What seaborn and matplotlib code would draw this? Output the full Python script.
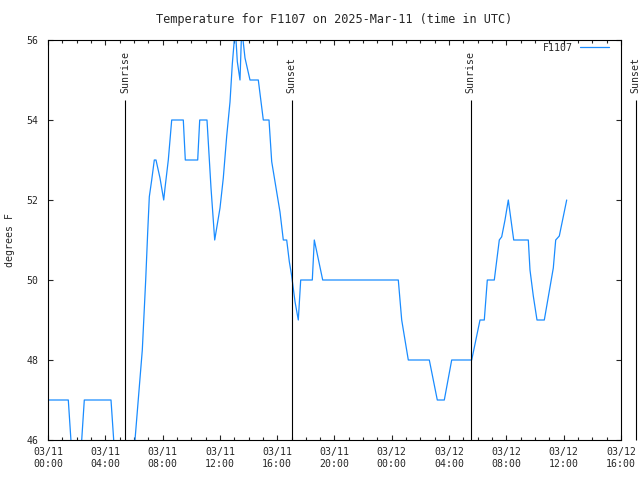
import pandas as pd
import matplotlib
matplotlib.use("Agg")
import matplotlib.pyplot as plt
import matplotlib.dates as mdates
import seaborn as sns

# Giờ kể từ 2025-03-11 00:00 UTC và nhiệt độ (độ F)
hours = [0.0, 1.417, 1.6, 1.8, 2.15, 2.353, 2.534, 4.398, 4.586, 4.78, 5.88, 6.073,
         6.583, 6.82, 6.96, 7.072, 7.239, 7.421, 7.539, 7.818, 8.077, 8.168, 8.398,
         8.517, 8.635, 9.445, 9.585, 10.45, 10.59, 11.099, 11.379, 11.637, 12.007,
         12.237, 12.475, 12.705, 12.866, 13.075, 13.215, 13.403, 13.522, 13.752,
         14.101, 14.681, 15.03, 15.428, 15.616, 15.965, 16.195, 16.426, 16.663,
         16.845, 17.012, 17.243, 17.473, 17.64, 18.45, 18.59, 19.176, 24.454,
         24.691, 24.921, 25.152, 26.618, 27.176, 27.665, 28.181, 29.578, 30.157,
         30.457, 30.667, 31.155, 31.504, 31.672, 31.902, 32.133, 32.51, 33.529,
         33.647, 33.878, 34.136, 34.646, 35.274, 35.442, 35.693, 36.209]
temps = [47, 47, 46, 45, 45, 46, 47, 47, 46, 45, 45, 46,
         48.25, 50, 51.2, 52.08, 52.5, 53, 53, 52.55, 52, 52.3, 53,
         53.5, 54, 54, 53, 53, 54, 54, 52.3, 51, 51.8,
         52.55, 53.6, 54.45, 55.4, 56.3, 55.46, 55, 56.3, 55.55,
         55, 55, 54, 54, 52.96, 52.2, 51.7, 51, 51,
         50.46, 50.1, 49.46, 49, 50, 50, 51, 50, 50,
         49, 48.5, 48, 48, 47, 47, 48, 48, 49,
         49, 50, 50, 51, 51.08, 51.5, 52, 51, 51,
         50.25, 49.6, 49, 49, 50.3, 51, 51.1, 52]

events = ["Sunrise", "Sunset", "Sunrise", "Sunset"]
event_hours = [5.37, 17.0, 29.5, 41.03]

start = pd.Timestamp("2025-03-11 00:00")
df = pd.DataFrame({"time": start + pd.to_timedelta(hours, unit="h"), "temp": temps})

sns.set_style("ticks")
plt.rcParams["font.family"] = ["DejaVu Sans Mono", "DejaVu Sans"]
plt.rcParams["font.size"] = 7.1

fig = plt.figure(figsize=(6.4, 4.8), dpi=100)
ax = fig.add_axes([48 / 640, 40 / 480, 573 / 640, 400 / 480])

sns.lineplot(data=df, x="time", y="temp", ax=ax, color="#1a8cff", linewidth=0.9,
             estimator=None, sort=False, label="F1107")

# Đường mặt trời mọc / lặn
for name, h in zip(events, event_hours):
    t = start + pd.Timedelta(hours=h)
    ax.vlines(t, 46, 54.5, color="black", linewidth=0.8, clip_on=False)
    ax.text(t, 54.68, name, rotation=90, ha="center", va="bottom", clip_on=False)

ax.set_xlim(start, start + pd.Timedelta(hours=40))
ax.set_ylim(46, 56)
ax.set_yticks([46, 48, 50, 52, 54, 56])
ax.xaxis.set_major_locator(mdates.HourLocator(byhour=range(0, 24, 4)))
ax.xaxis.set_minor_locator(mdates.HourLocator())
ax.xaxis.set_major_formatter(mdates.DateFormatter("%m/%d\n%H:%M"))

ax.tick_params(which="both", direction="in", top=True, right=True, width=0.8)
ax.tick_params(which="major", length=3.6)
ax.tick_params(which="minor", length=2.2)
ax.tick_params(axis="x", pad=5)
ax.tick_params(axis="y", pad=7)
for s in ax.spines.values():
    s.set_linewidth(0.8)
    s.set_color("black")

ax.set_xlabel("")
ax.set_ylabel("degrees F")
ax.yaxis.set_label_coords(-0.058, 0.5)
ax.set_title("Temperature for F1107 on 2025-Mar-11 (time in UTC)", pad=12)

ax.legend(loc="upper right", bbox_to_anchor=(0.979, 0.993), frameon=False,
          markerfirst=False, handlelength=2.9, borderaxespad=0, borderpad=0,
          handletextpad=0.8)

plt.savefig("out.png", dpi=100)
